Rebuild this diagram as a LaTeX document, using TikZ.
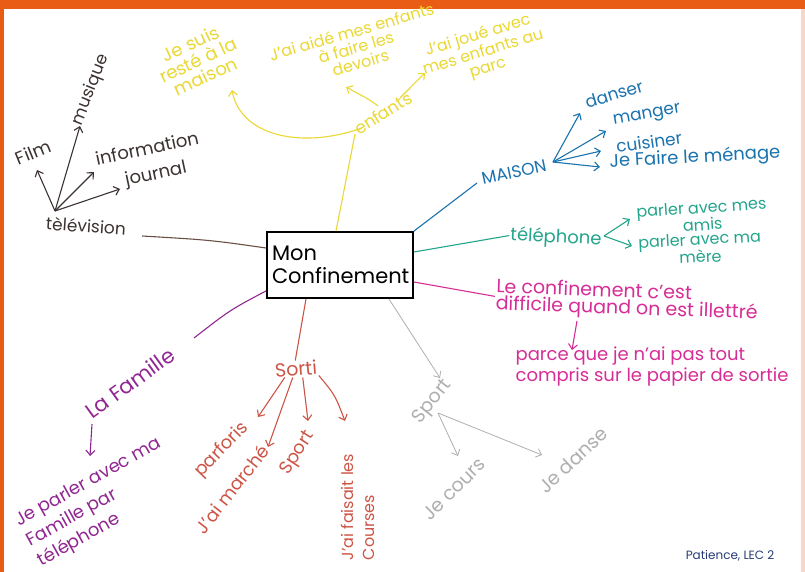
\documentclass[tikz,border=0pt]{standalone}
\usepackage{fontspec}
\setmainfont{Poppins}
\usetikzlibrary{arrows.meta}
\definecolor{cyel}{RGB}{234,216,52}
\definecolor{cblue}{RGB}{25,115,175}
\definecolor{cteal}{RGB}{35,165,140}
\definecolor{cmag}{RGB}{215,45,150}
\definecolor{cgrey}{RGB}{175,175,175}
\definecolor{cred}{RGB}{205,85,70}
\definecolor{cpur}{RGB}{145,40,145}
\definecolor{cbrown}{RGB}{60,50,50}
\definecolor{cbrline}{RGB}{105,80,70}
\definecolor{corange}{RGB}{232,92,22}
\definecolor{csign}{RGB}{40,60,120}
\begin{document}
\begin{tikzpicture}[x=1pt,y=-1pt,
  every node/.style={inner sep=1pt},
  txt/.style={font=\fontsize{#1}{#1}\selectfont, align=center},
  txt/.default=17,
  big/.style={font=\fontsize{21}{23}\selectfont},
  link/.style={line width=1.1pt},
  arr/.style={line width=1.1pt,-{Straight Barb[length=5pt,width=9pt]}}]
\useasboundingbox (0,0) rectangle (805,572);
\fill[white] (0,0) rectangle (805,572);
\fill[corange] (0,0) rectangle (805,9);
\fill[corange] (0,0) rectangle (4,572);
\fill[corange!25] (801,9) rectangle (805,572);

% centre
\node[draw=black, line width=1.8pt, minimum width=146pt, minimum height=66pt,
      big, align=left, text width=136pt] (c) at (340,265) {Mon\\Confinement};

% ---- yellow: enfants
\node[txt=17, text=cyel, rotate=32] (enf) at (383,113) {enfants};
\node[font=\fontsize{18}{18}\selectfont, align=center, text=cyel, rotate=25] (js) at (198,60) {Je suis\\resté à la\\maison};
\node[txt=16, text=cyel, rotate=16] (aid) at (356,47) {J'ai aidé mes enfants\\à faire les\\devoirs};
\node[txt=16, text=cyel, rotate=17] (joue) at (483,52) {J'ai joué avec\\mes enfants au\\parc};
\coordinate (jsT) at (232,90);
\coordinate (aidT) at (346,87);
\coordinate (joueT) at (425,73);
\coordinate (enfB) at (355,134);
\coordinate (enfL) at (362,128);
\coordinate (enfM) at (378,106);
\coordinate (enfR) at (400,98);
\draw[link, cyel] ([xshift=-4pt]c.north) -- (enfB);
\draw[arr, cyel] (enfL) .. controls (300,150) and (240,135) .. (jsT);
\draw[arr, cyel] (enfM) .. controls (370,100) .. (aidT);
\draw[arr, cyel] (enfR) .. controls (412,85) .. (joueT);

% ---- television
\coordinate (tvr) at (55,211);
\node[txt=17, text=cbrown, rotate=-4] (tv) at (86,226) {tèlévision};
\node[txt=18, text=cbrown, rotate=22] (film) at (33,152) {Film};
\node[txt=17, text=cbrown, rotate=68] (mus) at (91,90) {musique};
\node[txt=18, text=cbrown, rotate=12] (info) at (147,148) {information};
\node[txt=18, text=cbrown, rotate=12] (jour) at (156,175) {journal};
\coordinate (filmT) at (37,170);
\coordinate (musT) at (80,126);
\coordinate (infoT) at (94,172);
\coordinate (jourT) at (120,189);
\draw[arr, cbrown] (tvr) -- (filmT);
\draw[arr, cbrown] (tvr) -- (musT);
\draw[arr, cbrown] (tvr) -- (infoT);
\draw[arr, cbrown] (tvr) -- (jourT);
\coordinate (tvE) at (142,236);
\draw[link, cbrline] ([yshift=17pt]c.west) .. controls (210,240) .. (tvE);

% ---- maison (blue)
\node[txt=17, text=cblue, rotate=12] (mai) at (514,172) {MAISON};
\coordinate (maiW) at (477,183);
\draw[link, cblue] (c.north east) -- (maiW);
\coordinate (mr) at (553,162);
\node[txt=17, text=cblue, rotate=17] (dan) at (614,94) {danser};
\node[txt=17, text=cblue, rotate=10] (man) at (647,116) {manger};
\node[txt=17, text=cblue, rotate=8] (cui) at (649,142) {cuisiner};
\node[txt=18, text=cblue, rotate=3] (men) at (695,158) {Je Faire le ménage};
\coordinate (danT) at (580,113);
\coordinate (manT) at (606,131);
\coordinate (cuiT) at (601,151);
\coordinate (menT) at (600,167);
\draw[arr, cblue] (mr) -- (danT);
\draw[arr, cblue] (mr) -- (manT);
\draw[arr, cblue] (mr) -- (cuiT);
\draw[arr, cblue] (mr) -- (menT);

% ---- telephone (teal)
\node[txt=18, text=cteal, rotate=-3] (tel) at (556,238) {téléphone};
\draw[link, cteal] ([yshift=13pt]c.east) -- (tel.west);
\coordinate (tr) at (604,236);
\node[font=\fontsize{16}{14}\selectfont, align=center, text=cteal, rotate=4] (ami) at (702,216) {parler avec mes\\amis};
\node[font=\fontsize{16}{14}\selectfont, align=center, text=cteal, rotate=3] (mer) at (700,248) {parler avec ma\\mère};
\coordinate (amiT) at (630,219);
\coordinate (merT) at (632,246);
\draw[arr, cteal] (tr) -- (amiT);
\draw[arr, cteal] (tr) -- (merT);

% ---- magenta
\node[font=\fontsize{19}{17}\selectfont, text=cmag, align=left, rotate=-2] (cf) at (627,301) {Le confinement c'est\\difficile quand on est illettré};
\draw[link, cmag] ([yshift=-17pt]c.east) -- (cf.west);
\node[font=\fontsize{18}{21}\selectfont, text=cmag, align=left] (pq) at (652,366) {parce que je n'ai pas tout\\compris sur le papier de sortie};
\coordinate (cfA) at (577,321);
\coordinate (pqT) at (572,350);
\draw[arr, cmag] (cfA) -- (pqT);

% ---- grey sport
\node[txt=19, text=cgrey, rotate=52] (sp) at (433,402) {Sport};
\coordinate (spT) at (440,378);
\draw[arr, cgrey, line width=0.8pt] ([xshift=-25pt]c.south east) -- (spT);
\coordinate (sr) at (438,413);
\node[txt=19, text=cgrey, rotate=45] (jc) at (454,489) {Je cours};
\node[txt=19, text=cgrey, rotate=43] (jd) at (573,460) {Je danse};
\coordinate (jcT) at (458,456);
\coordinate (jdT) at (542,455);
\draw[arr, cgrey, line width=0.8pt] (sr) -- (jcT);
\draw[arr, cgrey, line width=0.8pt] (sr) -- (jdT);

% ---- sorti (red)
\node[txt=19, text=cred, rotate=5] (so) at (296,369) {Sorti};
\draw[link, cred] ([xshift=-34pt]c.south) -- (so.north);
\node[txt=18, text=cred, rotate=46] (par) at (222,450) {parforis};
\node[txt=18, text=cred, rotate=52] (mar) at (232,489) {J'ai marché};
\node[txt=18, text=cred, rotate=57] (spo) at (298,453) {Sport};
\node[font=\fontsize{16}{21}\selectfont, text=cred, rotate=90, align=left] (cou) at (358,507) {J'ai faisait les\\Courses};
\coordinate (parT) at (258,417);
\coordinate (marT) at (268,447);
\coordinate (spoT) at (308,421);
\coordinate (couT) at (345,421);
\draw[arr, cred] ([xshift=-12pt]so.south) -- (parT);
\draw[arr, cred] ([xshift=-4pt]so.south) -- (marT);
\draw[arr, cred] ([xshift=6pt]so.south) -- (spoT);
\draw[arr, cred] (so.south east) .. controls (335,395) .. (couT);

% ---- famille (purple)
\node[txt=21, text=cpur, rotate=36] (fam) at (130,383) {La Famille};
\coordinate (famE) at (194,338);
\draw[link, cpur] ([yshift=8pt]c.south west) .. controls (230,310) .. (famE);
\node[font=\fontsize{18}{23}\selectfont, text=cpur, rotate=29, align=left] (jp) at (100,503) {Je parler avec ma\\Famille par\\téléphone};
\coordinate (famA) at (92,424);
\coordinate (famT) at (90,456);
\draw[arr, cpur] (famA) -- (famT);

% signature
\node[text=csign, font=\fontsize{12}{12}\selectfont] (sig) at (730,556) {Patience, LEC 2};
\end{tikzpicture}
\end{document}
